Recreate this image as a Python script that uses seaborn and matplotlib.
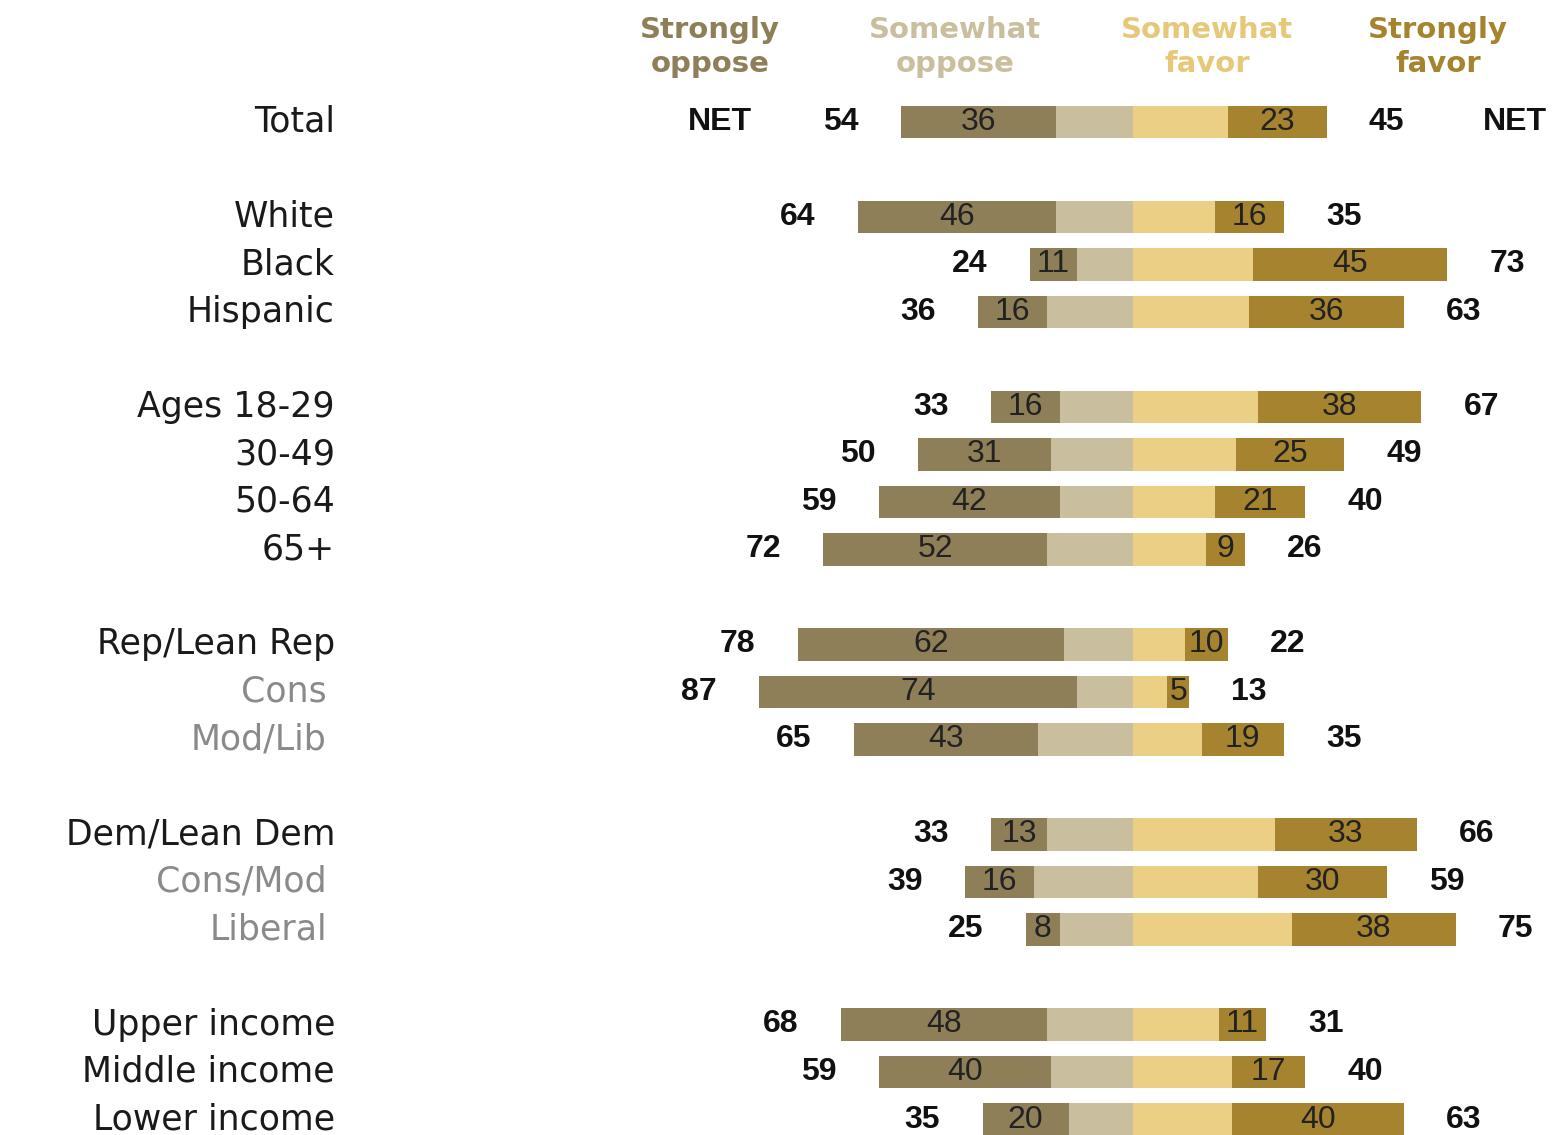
import pandas as pd
import numpy as np
import seaborn as sns
import matplotlib.pyplot as plt

# row labels and row slots (gaps between groups)
labels = ["Total", "White", "Black", "Hispanic", "Ages 18-29", "30-49", "50-64", "65+",
          "Rep/Lean Rep", "Cons", "Mod/Lib", "Dem/Lean Dem", "Cons/Mod", "Liberal",
          "Upper income", "Middle income", "Lower income"]
slots = [0, 2, 3, 4, 6, 7, 8, 9, 11, 12, 13, 15, 16, 17, 19, 20, 21]
sub_rows = ["Cons", "Mod/Lib", "Cons/Mod", "Liberal"]

net_oppose = [54, 64, 24, 36, 33, 50, 59, 72, 78, 87, 65, 33, 39, 25, 68, 59, 35]
strongly_oppose = [36, 46, 11, 16, 16, 31, 42, 52, 62, 74, 43, 13, 16, 8, 48, 40, 20]
strongly_favor = [23, 16, 45, 36, 38, 25, 21, 9, 10, 5, 19, 33, 30, 38, 11, 17, 40]
net_favor = [45, 35, 73, 63, 67, 49, 40, 26, 22, 13, 35, 66, 59, 75, 31, 40, 63]

df = pd.DataFrame({"label": labels, "pos": slots,
                   "net_oppose": net_oppose, "strongly_oppose": strongly_oppose,
                   "strongly_favor": strongly_favor, "net_favor": net_favor})
df["oppose_left"] = -df["net_oppose"]
df["some_oppose"] = -(df["net_oppose"] - df["strongly_oppose"])
df["some_favor"] = df["net_favor"] - df["strongly_favor"]

c_so = "#8e7f58"
c_wo = "#c9be9e"
c_wf = "#ebcf85"
c_sf = "#a6832e"

sns.set_style("white")
fig = plt.figure(figsize=(15.57, 11.35), dpi=100)
ax = fig.add_axes([0, 0, 1, 1])

px = 4.3      # pixels per percentage point
cx = 1133     # pixel of the zero line
row_h = 47.5
y0 = 122

def xv(p):
    return (p - cx) / px

kw = dict(y="pos", orient="y", native_scale=True, width=0.68, errorbar=None,
          linewidth=0, ax=ax)
sns.barplot(data=df, x="oppose_left", color=c_so, saturation=1, **kw)
sns.barplot(data=df, x="some_oppose", color=c_wo, saturation=1, **kw)
sns.barplot(data=df, x="net_favor", color=c_sf, saturation=1, **kw)
sns.barplot(data=df, x="some_favor", color=c_wf, saturation=1, **kw)

ax.set_xlim(xv(0), xv(1557))
ax.set_ylim((1135 - y0) / row_h, -y0 / row_h)
ax.axis("off")

num_font = "Liberation Sans"
for _, r in df.iterrows():
    y = r["pos"]
    sub = r["label"] in sub_rows
    ax.text(xv(327 if sub else 335), y, r["label"], ha="right", va="center",
            fontsize=25, color="#8a8a8a" if sub else "#1a1a1a", family="DejaVu Sans")
    # values inside strongly segments
    ax.text(-r["net_oppose"] + r["strongly_oppose"] / 2, y, str(r["strongly_oppose"]),
            ha="center", va="center", fontsize=23, color="#222222", family=num_font)
    ax.text(r["net_favor"] - r["strongly_favor"] / 2, y, str(r["strongly_favor"]),
            ha="center", va="center", fontsize=23, color="#222222", family=num_font)
    # net values
    ax.text(-r["net_oppose"] - 14, y, str(r["net_oppose"]), ha="center", va="center",
            fontsize=23, fontweight="bold", color="#111111", family=num_font)
    ax.text(r["net_favor"] + 14, y, str(r["net_favor"]), ha="center", va="center",
            fontsize=23, fontweight="bold", color="#111111", family=num_font)

ax.text(xv(720), 0, "NET", ha="center", va="center", fontsize=23,
        fontweight="bold", color="#111111", family=num_font)
ax.text(xv(1515), 0, "NET", ha="center", va="center", fontsize=23,
        fontweight="bold", color="#111111", family=num_font)

# header legend
heads = [("Strongly\noppose", 710, c_so), ("Somewhat\noppose", 955, c_wo),
         ("Somewhat\nfavor", 1207, "#e6c878"), ("Strongly\nfavor", 1438, c_sf)]
for txt, hx, col in heads:
    ax.text(xv(hx), (47 - y0) / row_h, txt, ha="center", va="center", fontsize=21,
            fontweight="bold", color=col, family="DejaVu Sans", linespacing=1.3)

plt.savefig("out.png", dpi=100)
